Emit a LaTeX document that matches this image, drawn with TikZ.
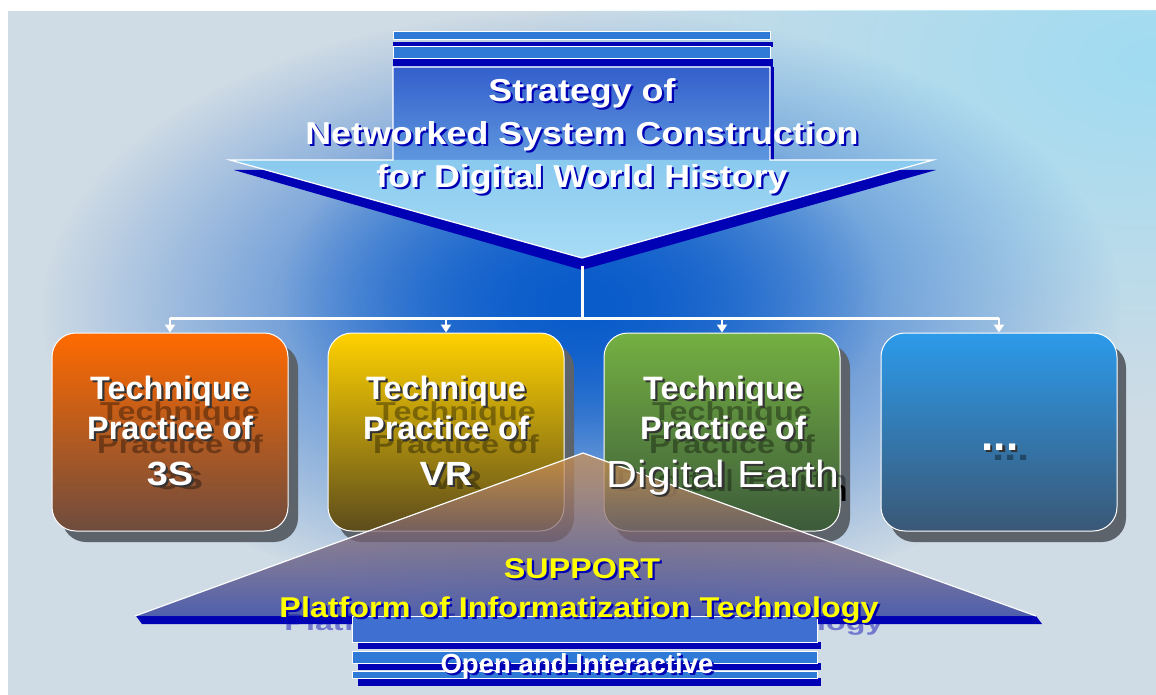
\documentclass[tikz,border=0pt]{standalone}
\usepackage{graphicx}
\usepackage{fontspec}
\setmainfont{Liberation Sans}
\newfontfamily\widesans{Liberation Sans}[FakeStretch=1.13]
\usetikzlibrary{arrows.meta,fadings}

\definecolor{bggray}{HTML}{CFDBE5}
\definecolor{bgcyan}{HTML}{A0DCF2}
\definecolor{glowblue}{HTML}{0A5CCB}
\definecolor{navy}{HTML}{0000B4}
\definecolor{barblue}{HTML}{2F7AD6}
\definecolor{shafttop}{HTML}{335FCC}
\definecolor{shaftbot}{HTML}{5E97DE}
\definecolor{headtop}{HTML}{8ACAEF}
\definecolor{headbot}{HTML}{A8DCF5}
\definecolor{shadowgray}{HTML}{5C636B}
\definecolor{orangeT}{HTML}{FF6A00}
\definecolor{orangeB}{HTML}{6E4C3E}
\definecolor{yellowT}{HTML}{FFD200}
\definecolor{yellowB}{HTML}{5C4C1C}
\definecolor{greenT}{HTML}{74B042}
\definecolor{greenB}{HTML}{3C5A3A}
\definecolor{skyT}{HTML}{2C9AEA}
\definecolor{skyB}{HTML}{3A5876}
\definecolor{supporttop}{HTML}{D29350}
\definecolor{supportbot}{HTML}{26379A}
\definecolor{platblue}{HTML}{3F6FD0}
\definecolor{supportyellow}{HTML}{FFFF00}

\tikzfading[name=glowfade, inner color=transparent!0, outer color=transparent!100]

% text with a small drop shadow
\newcommand{\shtext}[2][navy]{\makebox[0pt][l]{\kern1.1pt\raisebox{-1.1pt}{\textcolor{#1}{#2}}}#2}
\newcommand{\squash}[1]{\scalebox{1}[0.8]{#1}}
\newcommand{\bigline}{\widesans\fontsize{16.8}{20}\selectfont}
\newcommand{\earthline}{\widesans\mdseries\fontsize{18.9}{22}\selectfont}

\begin{document}
\begin{tikzpicture}[x=0.5pt, y=-0.5pt,
  techbox/.style={rounded corners=12pt, minimum width=118pt, minimum height=99pt, draw=white, line width=0.5pt},
  boxshadow/.style={fill=shadowgray, rounded corners=12pt},
  titletxt/.style={text=white, align=center, font=\widesans\bfseries\fontsize{15.85}{21.5}\selectfont},
  boxtxt/.style={text=white, align=center, font=\bfseries\fontsize{16.2}{20}\selectfont},
  ghosttxt/.style={text=black, text opacity=0.35, align=center, font=\bfseries\fontsize{16.2}{16.5}\selectfont},
  supporttxt/.style={text=supportyellow, anchor=base, font=\widesans\bfseries\fontsize{14.3}{18}\selectfont},
  opentxt/.style={text=white, anchor=base, font=\bfseries\fontsize{13.8}{16}\selectfont},
  wire/.style={white, line width=1.5pt},
  drop/.style={white, line width=1pt, -{Triangle[width=5pt,length=4pt]}},
]
\useasboundingbox (0,0) rectangle (1156,695);

% background
\fill[white] (0,0) rectangle (1156,695);
\begin{scope}
  \clip (8,11) rectangle (1156,695);
  \fill[bggray] (8,11) rectangle (1156,695);
  \fill[bgcyan, path fading=glowfade] (1156,60) ellipse (620 and 360);
  \fill[glowblue, path fading=glowfade] (582,310) ellipse (540 and 300);
  \fill[glowblue, path fading=glowfade] (582,295) ellipse (300 and 190);
\end{scope}

% strategy arrow
\fill[navy] (234,170) -- (936,170) -- (582,270) -- cycle;
\fill[navy] (393,42) rectangle (773,47);
\fill[navy] (393,59) rectangle (773,67);
\fill[navy] (770,67) rectangle (774,160);
\filldraw[fill=barblue, draw=white, line width=.5pt] (393,32) rectangle (770,40);
\filldraw[fill=barblue, draw=white, line width=.5pt] (393,47) rectangle (770,59);
\shade[top color=shafttop, bottom color=shaftbot] (393,67) rectangle (770,160);
\shade[top color=headtop, bottom color=headbot] (230,160) -- (933,160) -- (582,258) -- cycle;
\draw[white, line width=.6pt] (393,160) -- (393,67) -- (770,67) -- (770,160) -- (933,160) -- (582,258) -- (230,160) -- cycle;

% technique boxes
\foreach \x in {170,446,722,998}
  \fill[boxshadow] (\x-108,344) rectangle (\x+128,542);
% the ghost of "Digital Earth" shows past the box edge
\node[ghosttxt, text opacity=1, font=\earthline] (ghostdeback) at (732,494) {\squash{Digital Earth}};
\node[techbox, top color=orangeT, bottom color=orangeB] (tech3s) at (170,432) {};
\node[techbox, top color=yellowT, bottom color=yellowB] (techvr) at (446,432) {};
\node[techbox, top color=greenT, bottom color=greenB] (techde) at (722,432) {};
\node[techbox, top color=skyT, bottom color=skyB] (techmore) at (999,432) {};

\node[ghosttxt] (ghost3s) at (180,446) {\squash{Technique}\\\squash{Practice of}\\[1.5pt]{\bigline\squash{3S}}};
\node[ghosttxt] (ghostvr) at (456,446) {\squash{Technique}\\\squash{Practice of}\\[1.5pt]{\bigline\squash{VR}}};
\node[ghosttxt] (ghostde) at (732,450) {\squash{Technique}\\\squash{Practice of}\\[2.5pt]{\earthline\squash{Digital Earth}}};
\node[ghosttxt, anchor=base, font=\bfseries\fontsize{22}{24}\selectfont] (ghostmore) at (1011,460) {\squash{...}};

% connectors
\coordinate (stratTip) at (582,266);
\coordinate (bus) at (582,318);
\draw[wire] (stratTip) -- (bus);
\draw[wire] (tech3s.north |- bus) -- (techmore.north |- bus);
\foreach \b in {tech3s,techvr,techde,techmore}
  \draw[drop] (\b.north |- bus) -- (\b.north);

% support platform
\fill[navy] (136,616) -- (1036,616) -- (1042,624) -- (142,624) -- cycle;
\shade[top color=supporttop, bottom color=supportbot, fill opacity=.75] (135,616) -- (583,453) -- (1036,616) -- cycle;
\draw[white, line width=.6pt] (135,616) -- (583,453) -- (1036,616);
\node[supporttxt, text=navy, text opacity=.45] (platghost) at (584,630) {\squash{Platform of Informatization Technology}};
\fill[navy] (358,642) rectangle (821,649);
\fill[navy] (358,663) rectangle (821,670);
\fill[navy] (358,678) rectangle (821,686);
\filldraw[fill=platblue, draw=white, line width=.5pt] (352,616) rectangle (817,642);
\filldraw[fill=barblue, draw=white, line width=.5pt] (352,651) rectangle (817,663);
\filldraw[fill=barblue, draw=white, line width=.5pt] (352,671) rectangle (817,678);

% texts
\node[titletxt] (strategy) at (582,137) {\shtext{Strategy of}\\\shtext{Networked System Construction}\\\shtext{for Digital World History}};
\node[boxtxt] (lbl3s) at (tech3s) {\shtext[black!80]{Technique}\\\shtext[black!80]{Practice of}\\[3pt]{\bigline\shtext[black!80]{3S}}};
\node[boxtxt] (lblvr) at (techvr) {\shtext[black!80]{Technique}\\\shtext[black!80]{Practice of}\\[3pt]{\bigline\shtext[black!80]{VR}}};
\node[boxtxt] (lblde) at (723,437) {\shtext[black!80]{Technique}\\\shtext[black!80]{Practice of}\\[4pt]{\earthline\shtext[black!80]{Digital Earth}}};
\node[boxtxt, anchor=base, font=\bfseries\fontsize{22}{24}\selectfont] (lblmore) at (1000,450) {\shtext[black!80]{...}};
\node[supporttxt] (support) at (582,578) {\shtext{SUPPORT}};
\node[supporttxt] (platform) at (579,617) {\shtext{Platform of Informatization Technology}};
\node[opentxt] (openint) at (577,673) {\shtext{Open and Interactive}};
\end{tikzpicture}
\end{document}
